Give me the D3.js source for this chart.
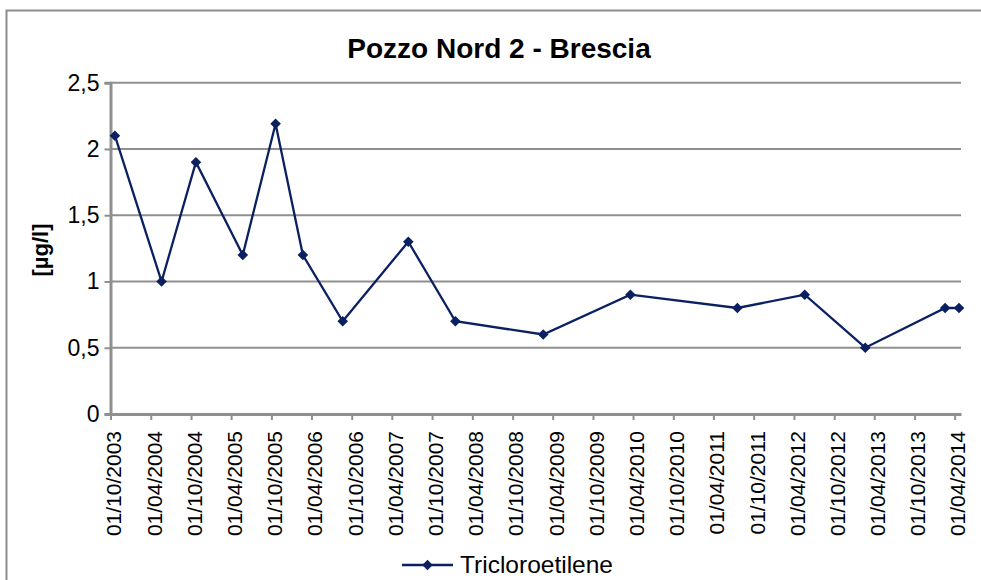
<!DOCTYPE html>
<html>
<head>
<meta charset="utf-8">
<script src="https://cdn.jsdelivr.net/npm/d3@7"></script>
<style>
  html, body { margin: 0; padding: 0; background: #fff; }
  svg { display: block; font-family: "Liberation Sans", Arial, Helvetica, sans-serif; }
</style>
</head>
<body>
<svg id="chart" width="981" height="580"></svg>
<script>
// Sampling dates and trichloroethylene concentrations [µg/l]
const sampleDates = ["2003-10-21","2004-05-20","2004-10-23","2005-05-24","2005-10-20","2006-02-21",
  "2006-08-21","2007-06-15","2008-01-15","2009-02-17","2010-03-20","2011-07-19",
  "2012-05-20","2013-02-19","2014-02-17","2014-04-21"];
const tceValues = [2.1, 1.0, 1.9, 1.2, 2.19, 1.2, 0.7, 1.3, 0.7, 0.6, 0.9, 0.8, 0.9, 0.5, 0.8, 0.8];

// Six-monthly axis ticks
const tickDates = ["2003-10-01","2004-04-01","2004-10-01","2005-04-01","2005-10-01","2006-04-01",
  "2006-10-01","2007-04-01","2007-10-01","2008-04-01","2008-10-01","2009-04-01","2009-10-01",
  "2010-04-01","2010-10-01","2011-04-01","2011-10-01","2012-04-01","2012-10-01","2013-04-01",
  "2013-10-01","2014-04-01"];
const yTicks = [0, 0.5, 1, 1.5, 2, 2.5];

const chartTitle = "Pozzo Nord 2 - Brescia";
const yTitle = "[µg/l]";
const seriesName = "Tricloroetilene";

const parse = d3.utcParse("%Y-%m-%d");
const fmt = d3.utcFormat("%d/%m/%Y");
const data = sampleDates.map((d, i) => ({ date: parse(d), value: tceValues[i] }));

const svg = d3.select("#chart");
const lineColor = "#0b2060";
const gridColor = "#8f8f8f";

// Outer chart frame
svg.append("rect")
  .attr("x", 6.5).attr("y", 10.5)
  .attr("width", 1000).attr("height", 600)
  .attr("fill", "none").attr("stroke", "#8c8c8c").attr("stroke-width", 2);

const x = d3.scaleUtc()
  .domain([parse("2003-10-01"), parse("2014-04-30")])
  .range([110.5, 961]);
const y = d3.scaleLinear().domain([0, 2.5]).range([414, 82.7]);

// Horizontal gridlines
svg.append("g")
  .selectAll("line")
  .data(yTicks.filter(v => v > 0))
  .join("line")
  .attr("x1", x.range()[0]).attr("x2", x.range()[1])
  .attr("y1", d => y(d)).attr("y2", d => y(d))
  .attr("stroke", gridColor).attr("stroke-width", 2);

// Y axis
const yAxis = svg.append("g")
  .attr("transform", `translate(${x.range()[0]},0)`)
  .call(d3.axisLeft(y).tickValues(yTicks).tickSize(6).tickPadding(5)
    .tickFormat(d => String(d).replace(".", ",")));
yAxis.select(".domain").attr("stroke", gridColor).attr("stroke-width", 3);
yAxis.selectAll(".tick line").attr("stroke", gridColor).attr("stroke-width", 2);
yAxis.selectAll(".tick text")
  .attr("fill", "#000").attr("font-size", 23)
  .attr("font-family", "Liberation Sans, Arial, sans-serif");

// X axis
const xAxis = svg.append("g")
  .attr("transform", `translate(0,${y(0)})`)
  .call(d3.axisBottom(x).tickValues(tickDates.map(parse)).tickSize(6).tickSizeOuter(0)
    .tickFormat(fmt));
xAxis.select(".domain").attr("stroke", gridColor).attr("stroke-width", 3);
xAxis.selectAll(".tick line").attr("stroke", gridColor).attr("stroke-width", 2);
xAxis.selectAll(".tick text")
  .attr("fill", "#000").attr("font-size", 21)
  .attr("font-family", "Liberation Sans, Arial, sans-serif")
  .attr("text-anchor", "end")
  .attr("transform", "rotate(-90)")
  .attr("x", -17).attr("y", 3).attr("dy", "0.35em");

// Series line
svg.append("path")
  .datum(data)
  .attr("fill", "none")
  .attr("stroke", lineColor)
  .attr("stroke-width", 2.3)
  .attr("d", d3.line().x(d => x(d.date)).y(d => y(d.value)));

// Diamond markers
const diamond = d3.symbol().type(d3.symbolSquare).size(56);
svg.append("g")
  .selectAll("path")
  .data(data)
  .join("path")
  .attr("d", diamond)
  .attr("transform", d => `translate(${x(d.date)},${y(d.value)}) rotate(45)`)
  .attr("fill", lineColor);

// Title
svg.append("text")
  .attr("x", 499).attr("y", 58)
  .attr("text-anchor", "middle")
  .attr("font-size", 28).attr("font-weight", "bold")
  .text(chartTitle);

// Y-axis title
svg.append("text")
  .attr("transform", "translate(48,250) rotate(-90)")
  .attr("text-anchor", "middle")
  .attr("font-size", 22).attr("font-weight", "bold")
  .text(yTitle);

// Legend
const legend = svg.append("g");
legend.append("line")
  .attr("x1", 402).attr("x2", 453).attr("y1", 565).attr("y2", 565)
  .attr("stroke", lineColor).attr("stroke-width", 2.3);
legend.append("path")
  .attr("d", diamond)
  .attr("transform", "translate(427.5,565) rotate(45)")
  .attr("fill", lineColor);
legend.append("text")
  .attr("x", 460).attr("y", 573)
  .attr("font-size", 24.5)
  .text(seriesName);
</script>
</body>
</html>
